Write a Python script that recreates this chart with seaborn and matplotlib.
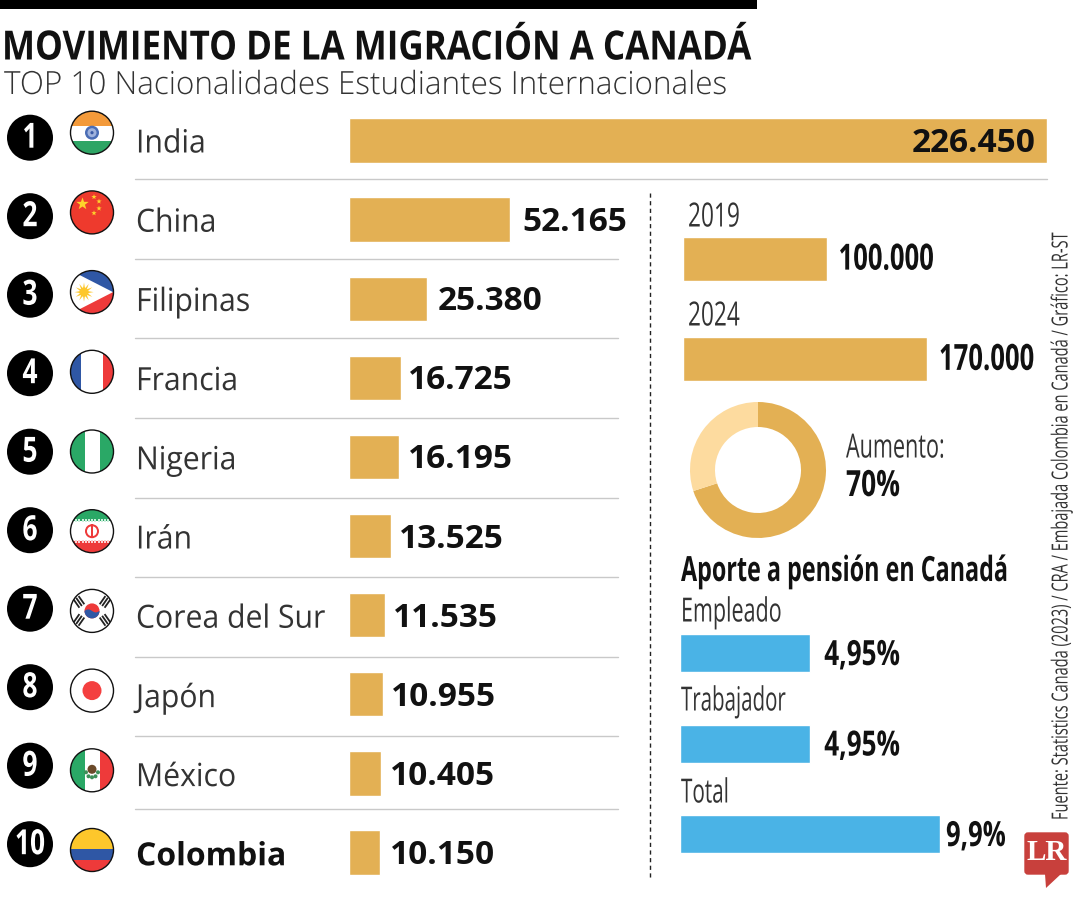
import numpy as np
import matplotlib
matplotlib.use("Agg")
import matplotlib.pyplot as plt
import matplotlib.patches as mp
import matplotlib.patheffects as pe
from matplotlib.text import Text
from matplotlib.transforms import Affine2D, Bbox
import seaborn as sns

# datos
paises = ["India", "China", "Filipinas", "Francia", "Nigeria", "Irán", "Corea del Sur", "Japón", "México", "Colombia"]
estudiantes = [226450, 52165, 25380, 16725, 16195, 13525, 11535, 10955, 10405, 10150]
anios = ["2019", "2024"]
inmigrantes = [100000, 170000]
aumento = [70, 30]
aporte_labels = ["Empleado", "Trabajador", "Total"]
aporte_vals = [4.95, 4.95, 9.9]
aporte_txt = ["4,95%", "4,95%", "9,9%"]

W, H = 1080, 900
ORO = "#e3b054"
ORO_CLARO = "#fddb9f"
AZUL = "#4ab3e6"
GRIS = "#333333"
NEGRO = "#111111"

sns.set_theme(style="white")
plt.rcParams["font.family"] = ["Open Sans", "DejaVu Sans"]

fig = plt.figure(figsize=(W / 100, H / 100), dpi=100, facecolor="white")
renderer = fig.canvas.get_renderer()


class Angosto(pe.AbstractPathEffect):
    # comprime el texto a lo largo de su direccion (no hay fuente condensada instalada)
    def __init__(self, texto, sx):
        super().__init__()
        self.texto = texto
        self.sx = sx

    def draw_path(self, renderer, gc, tpath, affine, rgbFace=None):
        x0, y0 = self.texto.get_transform().transform(self.texto.get_position())
        if self.texto.get_rotation() == 90:
            extra = Affine2D().translate(0, -y0).scale(1, self.sx).translate(0, y0)
        else:
            extra = Affine2D().translate(-x0, 0).scale(self.sx, 1).translate(x0, 0)
        renderer.draw_path(gc, tpath, affine + extra, rgbFace)


def angosto(ax, x, y, s, ancho=None, sx=None, **kw):
    t = ax.text(x, y, s, **kw)
    if ancho is not None:
        bb = t.get_window_extent(renderer)
        sx = ancho / max(bb.width, bb.height)
    t.set_path_effects([Angosto(t, sx)])

    # la caja del texto tambien se comprime
    def extent(rend=None, dpi=None):
        b = Text.get_window_extent(t, rend, dpi)
        x0, y0 = t.get_transform().transform(t.get_position())
        if t.get_rotation() == 90:
            return Bbox([[b.x0, y0 + (b.y0 - y0) * sx], [b.x1, y0 + (b.y1 - y0) * sx]])
        return Bbox([[x0 + (b.x0 - x0) * sx, b.y0], [x0 + (b.x1 - x0) * sx, b.y1]])

    t.get_window_extent = extent
    return t


def px_axes(x0, y0, x1, y1, **kw):
    # ejes a partir de pixeles de la imagen (y hacia abajo)
    ax = fig.add_axes([x0 / W, 1 - y1 / H, (x1 - x0) / W, (y1 - y0) / H], **kw)
    ax.axis("off")
    return ax


def corrido(ax, dx, dy):
    return ax.transData + Affine2D().translate(dx, dy)


bg = px_axes(0, 0, W, H)
bg.set_xlim(0, W)
bg.set_ylim(H, 0)

bg.add_patch(mp.Rectangle((0, 0), 757, 9, color="black", lw=0))
angosto(bg, 2, 49, "MOVIMIENTO DE LA MIGRACIÓN A CANADÁ", ancho=750, fontsize=29, fontweight="bold",
        color=NEGRO, va="center", ha="left")
angosto(bg, 4, 86, "TOP 10 Nacionalidades Estudiantes Internacionales", ancho=725, fontsize=23, color=GRIS,
        va="center", ha="left", fontweight="light")

# filas
row_y = [141 + i * 79.2 for i in range(10)]
num_y = [137.7 + i * 78.5 for i in range(10)]
flag_y = [132.7 + i * 79.7 for i in range(10)]

for i, nombre in enumerate(paises):
    bg.add_patch(mp.Circle((30, num_y[i]), 23, color="black", lw=0))
    angosto(bg, 30, num_y[i] + 1, str(i + 1), sx=0.76, color="white", fontsize=25, fontweight="bold",
            ha="center", va="center")
    es_col = nombre == "Colombia"
    angosto(bg, 136, row_y[i] + 3, nombre, sx=1.0 if es_col else 0.945, fontsize=23, color=NEGRO if es_col else GRIS,
            fontweight="bold" if es_col else "normal", va="center", ha="left")

for y, x1 in [(179, 1047), (259, 618), (338, 618), (418, 618), (498, 618),
              (577, 618), (657, 618), (736, 618), (809, 618)]:
    bg.plot([135, x1], [y, y], color="#c9c9c9", lw=1)

bg.plot([650, 650], [193, 880], color="#222222", lw=1, ls=(0, (3, 2.5)))


def flag(cx, cy, pinta):
    r = 21.5
    clip = mp.Circle((cx, cy), r, transform=bg.transData)

    def rect(x, y, w, h, c, z=3):
        p = mp.Rectangle((cx + x, cy + y), w, h, color=c, lw=0, zorder=z)
        bg.add_patch(p)
        p.set_clip_path(clip)
        return p

    def poly(pts, c, z=3):
        p = mp.Polygon([(cx + a, cy + b) for a, b in pts], color=c, lw=0, zorder=z)
        bg.add_patch(p)
        p.set_clip_path(clip)
        return p

    def dot(x, y, rad, c, z=4):
        p = mp.Circle((cx + x, cy + y), rad, color=c, lw=0, zorder=z)
        bg.add_patch(p)
        p.set_clip_path(clip)
        return p

    rect(-22, -22, 44, 44, "white", 2.5)
    pinta(rect, poly, dot)
    bg.add_patch(mp.Circle((cx, cy), r, fill=False, ec=NEGRO, lw=1, zorder=8))


def estrella(x, y, rad):
    ang = np.deg2rad(-90 + 36 * np.arange(10))
    rr = np.where(np.arange(10) % 2 == 0, rad, rad * 0.4)
    return list(zip(x + rr * np.cos(ang), y + rr * np.sin(ang)))


def f_india(rect, poly, dot):
    rect(-22, -22, 44, 15, "#f39a3a")
    rect(-22, 8, 44, 14, "#2ea565")
    dot(0, 0, 7, "#4a6db5")
    dot(0, 0, 4.5, "#9fb2dc", 5)
    dot(0, 0, 1.6, "#3a5aa5", 6)


def f_china(rect, poly, dot):
    rect(-22, -22, 44, 44, "#ee3a2d")
    poly(estrella(-9.5, -8.5, 6.5), "#fdd32b", 4)
    for x, y in [(2, -15.5), (7, -11), (7, -4), (2, 0.7)]:
        poly(estrella(x, y, 2.8), "#fdd32b", 4)


def f_filipinas(rect, poly, dot):
    rect(-22, -22, 44, 22, "#2f57a5")
    rect(-22, 0, 44, 22, "#ee3a3a")
    poly([(-24, -23), (21, 0), (-24, 23)], "white", 4)
    dot(-8, 0, 4.5, "#fdc72b", 5)
    for a in np.arange(0, 360, 30):
        t = np.deg2rad(a)
        poly([(-8 + 9.5 * np.cos(t), 9.5 * np.sin(t)),
              (-8 + 3 * np.cos(t + .4), 3 * np.sin(t + .4)),
              (-8 + 3 * np.cos(t - .4), 3 * np.sin(t - .4))], "#fdc72b", 5)


def f_francia(rect, poly, dot):
    rect(-22, -22, 11, 44, "#2f57a5")
    rect(11, -22, 11, 44, "#ee3a3a")


def f_nigeria(rect, poly, dot):
    rect(-22, -22, 14.5, 44, "#2aa866")
    rect(8, -22, 14, 44, "#2aa866")


def f_iran(rect, poly, dot):
    rect(-22, -22, 44, 12, "#2aa866")
    rect(-22, 10, 44, 12, "#ee3a3a")
    for x in np.arange(-20, 20, 3.2):
        rect(x, -12, 2, 3, "#cdeedd", 4)
        rect(x, 9, 2, 3, "#fbd0d0", 4)
    dot(0, 0, 7, "#ee3a3a")
    dot(0, 0, 5, "white", 5)
    rect(-1.2, -7, 2.4, 14, "#ee3a3a", 6)


def f_corea(rect, poly, dot):
    dot(0, 0, 7.5, "#ee3a3a")
    xs = np.linspace(-7.5, 7.5, 30)
    ola = list(zip(xs, 1.5 * np.sin(np.pi * xs / 7.5)))
    arco = [(7.5 * np.cos(a), 7.5 * np.sin(a)) for a in np.linspace(0, np.pi, 30)]
    poly(ola + arco, "#2f57a5", 5)
    for x, y, a in [(-13, -9, 55), (13, -9, -55), (-13, 9, -55), (13, 9, 55)]:
        t = np.deg2rad(a)
        ux, uy = np.cos(t), np.sin(t)
        nx, ny = -uy, ux
        for d in (-3, 0, 3):
            poly([(x + nx * d + ux * sx * 5 + nx * sy * 0.9, y + ny * d + uy * sx * 5 + ny * sy * 0.9)
                  for sx, sy in [(-1, -1), (1, -1), (1, 1), (-1, 1)]], "#222222", 5)


def f_japon(rect, poly, dot):
    dot(0, 0, 9.5, "#f43f3f")


def f_mexico(rect, poly, dot):
    rect(-22, -22, 14.5, 44, "#2aa866")
    rect(8, -22, 14, 44, "#ee3a3a")
    dot(0, -1, 4.5, "#6b4a2a")
    for x, y in [(-6, 2), (6, 2), (-3.5, 6), (3.5, 6), (0, 7)]:
        dot(x, y, 2, "#3d8f57")


def f_colombia(rect, poly, dot):
    rect(-22, -22, 44, 21, "#fdc72b")
    rect(-22, -1, 44, 11, "#2f57a5")
    rect(-22, 10, 44, 12, "#ee3a3a")


banderas = [f_india, f_china, f_filipinas, f_francia, f_nigeria, f_iran, f_corea, f_japon, f_mexico, f_colombia]
for y, pinta in zip(flag_y, banderas):
    flag(92, y, pinta)

# barras top 10
ax = px_axes(349, 141 - 39.6, 1047, 852 + 39.6)
sns.barplot(x=estudiantes, y=paises, color=ORO, saturation=1, width=45 / 79.2, ax=ax, orient="h")
ax.set_xlim(0, max(estudiantes))
ax.set_ylim(9.5, -0.5)
ax.axis("off")
pads = [-11, 13, 10, 7, 9, 8, 8, 8, 9, 10]
for i, v in enumerate(estudiantes):
    ax.text(v, i, f"{v:,}".replace(",", "."), transform=corrido(ax, pads[i], -3), ha="right" if i == 0 else "left",
            va="center", fontsize=24, fontweight="bold", color=NEGRO)

# barras 2019 / 2024
ax2 = px_axes(683, 208.5, 683 + 244, 409)
sns.barplot(x=inmigrantes, y=anios, color=ORO, saturation=1, width=0.44, ax=ax2, orient="h")
ax2.set_xlim(0, max(inmigrantes))
ax2.set_ylim(1.5, -0.5)
ax2.axis("off")
for i, v in enumerate(inmigrantes):
    angosto(ax2, v, i, f"{v:,}".replace(",", "."), ancho=95, transform=corrido(ax2, 12, -2), ha="left", va="center",
            fontsize=26, fontweight="bold", color=NEGRO)
angosto(bg, 688, 218, anios[0], ancho=52, fontsize=24, color=GRIS, va="center")
angosto(bg, 688, 317, anios[1], ancho=52, fontsize=24, color=GRIS, va="center")

# dona
ax3 = px_axes(758 - 70, 470 - 70, 758 + 70, 470 + 70)
ax3.pie(aumento, colors=[ORO, ORO_CLARO], startangle=90, counterclock=False, radius=68 / 70,
        wedgeprops=dict(width=25 / 70, lw=0))
ax3.set_xlim(-1, 1)
ax3.set_ylim(-1, 1)
angosto(bg, 846, 449, "Aumento:", ancho=99, fontsize=24, color=GRIS, va="center")
angosto(bg, 846, 487, f"{aumento[0]}%", ancho=54, fontsize=26, fontweight="bold", color=NEGRO, va="center")

# aporte a pension
angosto(bg, 681, 572, "Aporte a pensión en Canadá", ancho=327, fontsize=25, fontweight="bold", color=NEGRO, va="center")
ax4 = px_axes(680.5, 653 - 45.25, 940, 834 + 45.25)
sns.barplot(x=aporte_vals, y=aporte_labels, color=AZUL, saturation=1, width=38 / 90.5, ax=ax4, orient="h")
ax4.set_xlim(0, max(aporte_vals))
ax4.set_ylim(2.5, -0.5)
ax4.axis("off")
offs = [14, 14, 6]
anchos = [76, 76, 60]
for i, v in enumerate(aporte_vals):
    angosto(ax4, v, i, aporte_txt[i], ancho=anchos[i], transform=corrido(ax4, offs[i], -3), ha="left", va="center",
            fontsize=25, fontweight="bold", color=NEGRO)
for y, t, a in zip([613, 702, 794], aporte_labels, [101, 105, 48]):
    angosto(bg, 681, y, t, ancho=a, fontsize=24, color=GRIS, va="center")

# fuente y logo
angosto(bg, 1062, 820, "Fuente: Statistics Canada (2023) / CRA / Embajada Colombia en Canadá / Gráfico: LR-ST", ancho=588,
        rotation=90, fontsize=16, color=GRIS, ha="center", va="bottom")
bg.add_patch(mp.FancyBboxPatch((1025, 833), 43, 41, boxstyle="round,pad=0,rounding_size=3", fc="#c8403c", ec="#c8403c", lw=1))
bg.add_patch(mp.Polygon([(1045, 874), (1061, 874), (1046, 888)], color="#c8403c", lw=0))
bg.text(1046.5, 853, "LR", fontsize=21, fontweight="bold", family=["Liberation Serif", "DejaVu Serif"], color="white",
        ha="center", va="center")

fig.savefig("out.png", dpi=100, facecolor="white")
